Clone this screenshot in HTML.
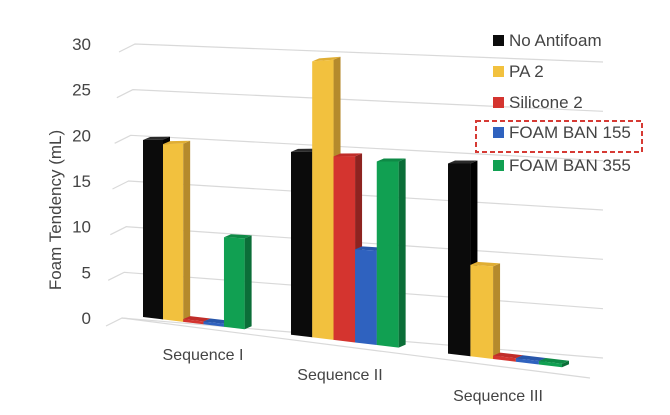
<!DOCTYPE html>
<html><head><meta charset="utf-8"><style>
html,body{margin:0;padding:0;background:#fff;width:670px;height:415px;overflow:hidden}
svg{display:block;font-family:"Liberation Sans",sans-serif}
</style></head><body>
<svg id="chart" width="670" height="415" viewBox="0 0 670 415" xmlns="http://www.w3.org/2000/svg">
<g id="grid"></g>
<g id="yticks"></g>
<text transform="translate(61,210) rotate(-90)" text-anchor="middle" font-size="17" fill="#444">Foam Tendency (mL)</text>
<g id="bars"></g>
<g id="xlabels"></g>
<g id="legend"></g>
<rect x="476" y="121" width="166" height="31" fill="none" stroke="#d63a34" stroke-width="2" stroke-dasharray="5,3"/>
</svg>
<script>
const categories = ["Sequence I","Sequence II","Sequence III"];
const seriesNames = ["No Antifoam","PA 2","Silicone 2","FOAM BAN 155","FOAM BAN 355"];
const noAntifoam = [20, 18.5, 17.3];
const pa2 = [19.5, 27.5, 8.2];
const silicone2 = [0.3, 18, 0.3];
const foamBan155 = [0.3, 9, 0.3];
const foamBan355 = [9.5, 17.5, 0.3];
const yTicks = [0,5,10,15,20,25,30];

const series = [noAntifoam, pa2, silicone2, foamBan155, foamBan355];
const front = ["#0b0b0b","#f2c13e","#d4342f","#2f62bf","#11a052"];
const side  = ["#000000","#b58a2c","#8e2320","#1f418a","#0b6e38"];
const topc  = ["#2a2a2a","#e0ae34","#c02d29","#2856aa","#0e8a46"];
const NS="http://www.w3.org/2000/svg";
function mk(tag, attrs, parent){const e=document.createElementNS(NS,tag);for(const k in attrs)e.setAttribute(k,attrs[k]);parent.appendChild(e);return e;}
function baseY(x){return 317+0.12*(x-143);}
function kScale(x){return 8.9+(x-150)*0.007;}
function pitch(x){return 20+(x-143)*0.008;}
const groupStart=[143,291,448];

const grid=document.getElementById('grid');
yTicks.forEach(v=>{
  const t=v/30;
  const yl=318-t*274, xl=122+t*13;
  const yr=358-t*296;
  const xr=603;
  const l=mk('polyline',{points:`${xl-16},${yl+8} ${xl},${yl} ${xr},${yr}`,fill:'none',stroke:'#d9d9d9','stroke-width':1.2},grid);
  
  
  const tx=mk('text',{x:91,y:yl+6,'text-anchor':'end','font-size':17,fill:'#444'},document.getElementById('yticks'));
  tx.textContent=v;
  
  
});
const floor=mk('line',{x1:122,y1:318,x2:590,y2:378,stroke:'#d9d9d9','stroke-width':1.2},grid);



const bars=document.getElementById('bars');
categories.forEach((c,ci)=>{
  let x=groupStart[ci];
  series.forEach((s,si)=>{
    const w=pitch(x);
    const v=s[ci];
    const x2=x+w;
    const b1=baseY(x), b2=baseY(x2);
    const h1=v*kScale(x), h2=v*kScale(x2);
    const t1=b1-h1, t2=b2-h2;
    const dx=7, dy=-3;
    const g=mk('g',{},bars);
    
    
    mk('polygon',{points:`${x2},${t2} ${x2+dx},${t2+dy} ${x2+dx},${b2+dy} ${x2},${b2}`,fill:side[si]},g);
    mk('polygon',{points:`${x},${t1} ${x2},${t2} ${x2+dx},${t2+dy} ${x+dx},${t1+dy}`,fill:topc[si]},g);
    mk('polygon',{points:`${x},${t1} ${x2},${t2} ${x2},${b2} ${x},${b1}`,fill:front[si]},g);
    x=x2;
  });
});

const xl=[[203,360],[340,380],[498,401]];
categories.forEach((c,i)=>{
  const t=mk('text',{x:xl[i][0],y:xl[i][1],'text-anchor':'middle','font-size':16,fill:'#444'},document.getElementById('xlabels'));
  t.textContent=c;
  
  
});

const lg=document.getElementById('legend');
const ly=[45,76,107,137,170];
seriesNames.forEach((n,i)=>{
  const g=mk('g',{},lg);
  
  
  mk('rect',{x:493,y:ly[i]-10,width:11,height:11,fill:front[i]},g);
  const t=mk('text',{x:509,y:ly[i]+1,'font-size':17,fill:'#444'},g);
  t.textContent=n;
});
</script>
</body></html>
